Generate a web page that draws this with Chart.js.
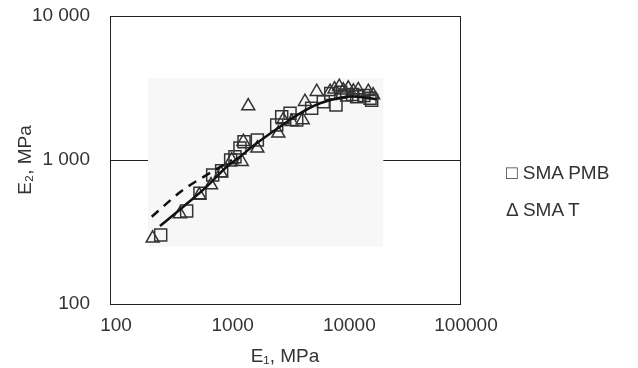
<!DOCTYPE html>
<html>
<head>
<meta charset="utf-8">
<script src="https://cdn.jsdelivr.net/npm/chart.js@4"></script>
<style>
    html, body { margin: 0; padding: 0; background: #fff; }
    #wrap { position: relative; width: 638px; height: 368px; }
    #legend { position: absolute; left: 506px; top: 158px; font: 19px "Liberation Sans", Arial, sans-serif; color: #333; }
    #legend div { height: 37px; line-height: 30px; white-space: nowrap; }
</style>
</head>
<body>
<div id="wrap">
    <canvas id="chart" width="638" height="368"></canvas>
    <div id="legend"></div>
</div>
<script>
// Tick values (decades)
const xTicks = [100, 1000, 10000, 100000];
const yTicks = [100, 1000, 10000];

// SMA PMB (squares)
const pmbE1 = [272, 454, 590, 759, 906, 1082, 1178, 1300, 1408, 1832, 2685, 2964, 3493, 3985, 5355, 6735, 8650, 10680, 13020, 16940, 7800, 9500, 12000, 15000, 17500];
const pmbE2 = [301, 443, 587, 787, 843, 1000, 1055, 1211, 1339, 1377, 1751, 2000, 2110, 1896, 2286, 2541, 2412, 2826, 2752, 2682, 2900, 2950, 2850, 2800, 2600];

// SMA T (triangles)
const tE1 = [232, 398, 583, 734, 893, 1104, 1346, 1390, 1531, 1832, 2773, 3055, 3606, 4483, 4688, 5911, 7691, 9230, 11030, 13430, 16370, 18000, 8400, 10000, 12200];
const tE2 = [286, 422, 571, 670, 809, 1000, 973, 1339, 2371, 1205, 1531, 1896, 1845, 1896, 2541, 2981, 2981, 3228, 3147, 3064, 2981, 2826, 3100, 3050, 3000];

// Fitted curves
const fitE1 = [268, 425, 674, 1000, 1300, 1807, 2864, 4254, 6310, 9360, 13000, 19300];
const fitE2 = [348, 474, 653, 897, 1055, 1306, 1703, 2110, 2477, 2710, 2754, 2644];
const dashE1 = [228, 422, 795, 1111];
const dashE2 = [404, 619, 853, 1000];

const toPts = (xs, ys) => xs.map((x, i) => ({ x: x, y: ys[i] }));

const ink = '#333';
const font = { family: '"Liberation Sans", Arial, sans-serif', size: 19 };

// Light grey field and full frame round the plot
const framePlugin = {
    id: 'frame',
    beforeDatasetsDraw(chart) {
        const { ctx, scales: { x, y } } = chart;
        const x0 = x.getPixelForValue(212), x1 = x.getPixelForValue(22000);
        const y0 = y.getPixelForValue(3700), y1 = y.getPixelForValue(250);
        ctx.save();
        ctx.fillStyle = '#f7f7f7';
        ctx.fillRect(x0, y0, x1 - x0, y1 - y0);
        ctx.restore();
    },
    afterDraw(chart) {
        const { ctx, chartArea: a } = chart;
        ctx.save();
        ctx.strokeStyle = '#222';
        ctx.lineWidth = 1;
        ctx.strokeRect(Math.round(a.left) + 0.5, Math.round(a.top) + 0.5,
            Math.round(a.right - a.left), Math.round(a.bottom - a.top));
        ctx.restore();
    }
};

const chart = new Chart(document.getElementById('chart'), {
    type: 'scatter',
    data: {
        datasets: [
            {
                label: 'fit',
                data: toPts(fitE1, fitE2),
                showLine: true,
                borderColor: '#111',
                borderWidth: 2.5,
                pointRadius: 0,
                tension: 0.4,
                fill: false
            },
            {
                label: 'fit dashed',
                data: toPts(dashE1, dashE2),
                showLine: true,
                borderColor: '#111',
                borderWidth: 2.5,
                borderDash: [9, 7],
                pointRadius: 0,
                tension: 0.3,
                fill: false
            },
            {
                label: 'SMA PMB',
                symbol: '\u25A1',
                data: toPts(pmbE1, pmbE2),
                pointStyle: 'rect',
                pointRadius: 8.5,
                borderColor: ink,
                borderWidth: 1.5,
                backgroundColor: 'rgba(0,0,0,0)'
            },
            {
                label: 'SMA T',
                symbol: '\u0394',
                data: toPts(tE1, tE2),
                pointStyle: 'triangle',
                pointRadius: 7.5,
                borderColor: ink,
                borderWidth: 1.5,
                backgroundColor: 'rgba(0,0,0,0)'
            }
        ]
    },
    options: {
        responsive: false,
        animation: false,
        layout: { padding: { top: 16, right: 178, left: 0, bottom: 0 } },
        plugins: {
            legend: { display: false },
            tooltip: { enabled: false }
        },
        scales: {
            x: {
                type: 'logarithmic',
                min: 100,
                max: 100000,
                afterBuildTicks: (axis) => { axis.ticks = xTicks.map(v => ({ value: v })); },
                afterFit: (axis) => { axis.height = 64; axis.paddingLeft = 0; axis.paddingRight = 0; },
                grid: { display: false, drawTicks: false },
                border: { display: false },
                ticks: {
                    color: ink,
                    font: font,
                    padding: 10,
                    labelOffset: 6,
                    maxRotation: 0,
                    callback: (v) => String(v)
                },
                title: {
                    display: true,
                    text: 'E\u2081, MPa',
                    color: ink,
                    font: font,
                    padding: { top: 2, bottom: 0 }
                }
            },
            y: {
                type: 'logarithmic',
                min: 100,
                max: 10000,
                afterBuildTicks: (axis) => { axis.ticks = yTicks.map(v => ({ value: v })); },
                afterFit: (axis) => { axis.width = 110; axis.paddingTop = 0; axis.paddingBottom = 0; },
                grid: {
                    drawTicks: false,
                    color: (c) => (c.tick && c.tick.value === 1000 ? '#222' : 'rgba(0,0,0,0)'),
                    lineWidth: 1
                },
                border: { display: false },
                ticks: {
                    color: ink,
                    font: font,
                    padding: 20,
                    callback: (v) => String(v).replace(/\B(?=(\d{3})+(?!\d))/g, ' ')
                },
                title: {
                    display: true,
                    text: 'E\u2082, MPa',
                    color: ink,
                    font: font,
                    padding: { top: 14, bottom: 0 }
                }
            }
        }
    },
    plugins: [framePlugin]
});

// Legend as text, built from the datasets that carry a symbol
const legendEl = document.getElementById('legend');
chart.data.datasets.filter(d => d.symbol).forEach(d => {
    const row = document.createElement('div');
    row.textContent = d.symbol + ' ' + d.label;
    legendEl.appendChild(row);
});
</script>
</body>
</html>
